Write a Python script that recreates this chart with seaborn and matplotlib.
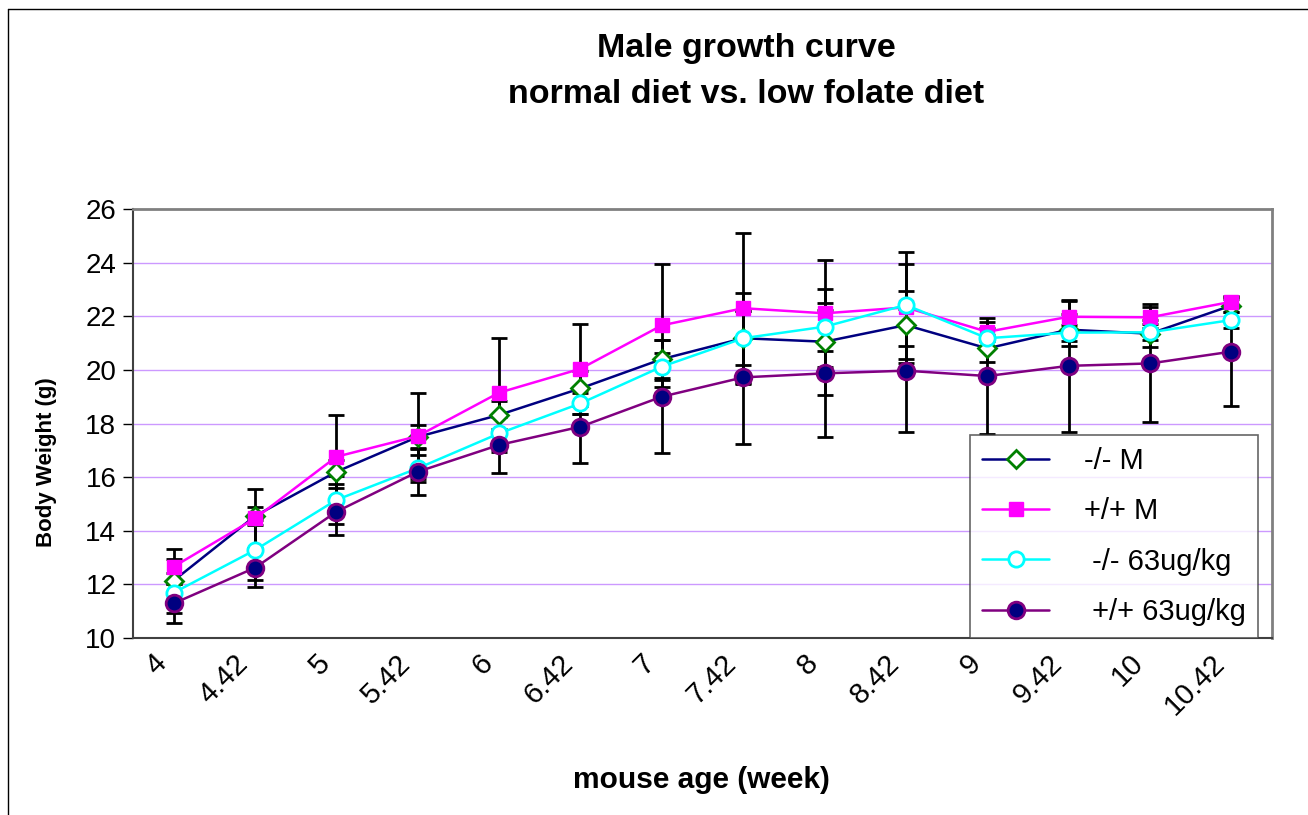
import numpy as np
import pandas as pd
import matplotlib
matplotlib.use("Agg")
import matplotlib.pyplot as plt
import matplotlib.transforms as mtransforms
import seaborn as sns
from matplotlib.lines import Line2D

# ---- data ----
ages = ['4', '4.42', '5', '5.42', '6', '6.42', '7', '7.42', '8', '8.42', '9', '9.42', '10', '10.42']

ko_m = [12.14, 14.55, 16.2, 17.5, 18.32, 19.31, 20.4, 21.18, 21.05, 21.67, 20.8, 21.5, 21.35, 22.4]
ko_m_err = [0.79, 0.35, 0.44, 0.44, 0.52, 0.66, 0.7, 1.7, 1.98, 1.28, 0.5, 0.6, 0.5, 0.25]

wt_m = [12.66, 14.46, 16.76, 17.53, 19.15, 20.04, 21.66, 22.3, 22.11, 22.33, 21.42, 21.98, 21.96, 22.54]
wt_m_err = [0.65, 1.09, 1.56, 1.6, 2.03, 1.67, 2.29, 2.79, 2.0, 2.06, 0.36, 0.6, 0.4, 0.2]

ko_63 = [11.69, 13.28, 15.15, 16.33, 17.63, 18.75, 20.12, 21.18, 21.61, 22.42, 21.18, 21.39, 21.4, 21.86]
ko_63_err = [0.74, 1.12, 0.9, 0.5, 0.7, 0.4, 0.5, 1.0, 0.9, 1.53, 0.4, 0.3, 0.3, 0.3]

wt_63 = [11.29, 12.62, 14.71, 16.2, 17.2, 17.88, 19.0, 19.72, 19.87, 19.97, 19.77, 20.15, 20.24, 20.68]
wt_63_err = [0.74, 0.71, 0.87, 0.87, 1.03, 1.36, 2.11, 2.48, 2.36, 2.29, 2.17, 2.45, 2.2, 2.03]

labels = ['-/- M', '+/+ M', ' -/- 63ug/kg', ' +/+ 63ug/kg']

sns.set_theme(style="white")
plt.rcParams['font.family'] = ['Liberation Sans', 'DejaVu Sans']
plt.rcParams['text.color'] = 'black'
plt.rcParams['axes.labelcolor'] = 'black'
plt.rcParams['xtick.color'] = 'black'
plt.rcParams['ytick.color'] = 'black'

fig = plt.figure(figsize=(13.08, 8.15), dpi=100)
ax = fig.add_axes([133/1308, 1-638/815, (1272-133)/1308, (638-209)/815])

x = np.arange(len(ages))
series = [
    (ko_m, ko_m_err, dict(color='#000080', marker='D', markersize=9, markerfacecolor='white',
                          markeredgecolor='#008000', markeredgewidth=2)),
    (wt_m, wt_m_err, dict(color='#FF00FF', marker='s', markersize=9.5, markerfacecolor='#FF00FF',
                          markeredgecolor='#FF00FF', markeredgewidth=1)),
    (ko_63, ko_63_err, dict(color='#00FFFF', marker='o', markersize=11, markerfacecolor='white',
                            markeredgecolor='#00FFFF', markeredgewidth=2)),
    (wt_63, wt_63_err, dict(color='#800080', marker='o', markersize=12, markerfacecolor='#000080',
                            markeredgecolor='#800080', markeredgewidth=2)),
]

for vals, errs, st in series:
    ax.errorbar(x, vals, yerr=errs, fmt='none', ecolor='black', elinewidth=2,
                capsize=6, capthick=2, zorder=2)

handles = []
for (vals, errs, st), lab in zip(series, labels):
    df = pd.DataFrame({'x': x, 'y': vals})
    sns.lineplot(data=df, x='x', y='y', ax=ax, linewidth=1.8, zorder=3, **st)
    handles.append(Line2D([], [], linewidth=1.8, **st))

ax.set_xlim(-0.5, len(ages) - 0.5)
ax.set_ylim(10, 26)
ax.set_yticks(np.arange(10, 27, 2))
ax.set_yticklabels([str(v) for v in range(10, 27, 2)], fontsize=20)
ax.set_xticks(np.arange(-0.5, len(ages), 1.0))
ax.set_xticklabels([])
ax.tick_params(axis='x', which='major', length=7, width=1, color='black', direction='out')
ax.tick_params(axis='y', which='major', length=7, width=1, color='black', direction='out', left=True, pad=5)

# category labels (rotated), anchored just left of each category centre
lab_tr = ax.get_xaxis_transform() + mtransforms.ScaledTranslation(-21/100, -11/100, fig.dpi_scale_trans)
for xi, a in zip(x, ages):
    ax.text(xi, 0, a, transform=lab_tr, rotation=45, ha='right', va='top',
            rotation_mode='anchor', fontsize=21, clip_on=False)

for yv in range(12, 26, 2):
    ax.axhline(yv, color='#CC99FF', linewidth=1, zorder=1)

for s in ['top', 'right']:
    ax.spines[s].set_color('#808080')
    ax.spines[s].set_linewidth(2)
for s in ['left', 'bottom']:
    ax.spines[s].set_color('#404040')
    ax.spines[s].set_linewidth(1.5)

ax.set_xlabel('mouse age (week)', fontsize=21.5, fontweight='bold')
ax.xaxis.set_label_coords((701-133)/1139, (638-766)/429)
ax.set_ylabel('Body Weight (g)', fontsize=16, fontweight='bold')
ax.yaxis.set_label_coords((47-133)/1139, (638-462)/429)
ax.yaxis.label.set_va('center')

fig.text(746/1308, 1-71.5/815, 'Male growth curve\nnormal diet vs. low folate diet',
         ha='center', va='center', fontsize=24.5, fontweight='bold', linespacing=1.63)

leg = ax.legend(handles, labels, loc='lower right', bbox_to_anchor=(0.988, 0.0),
                borderaxespad=0, fontsize=21, frameon=True, fancybox=False,
                handlelength=2.3, handletextpad=1.2, labelspacing=0.76,
                borderpad=0.42)
leg.get_frame().set_edgecolor('#404040')
leg.get_frame().set_linewidth(1.2)
leg.set_zorder(5)

# outer figure frame
fig.add_artist(Line2D([8/1308, 1.0], [1-9/815, 1-9/815], color='black', linewidth=1,
                      transform=fig.transFigure))
fig.add_artist(Line2D([8/1308, 8/1308], [0, 1-9/815], color='black', linewidth=1,
                      transform=fig.transFigure))

fig.savefig('out.png', dpi=100)
